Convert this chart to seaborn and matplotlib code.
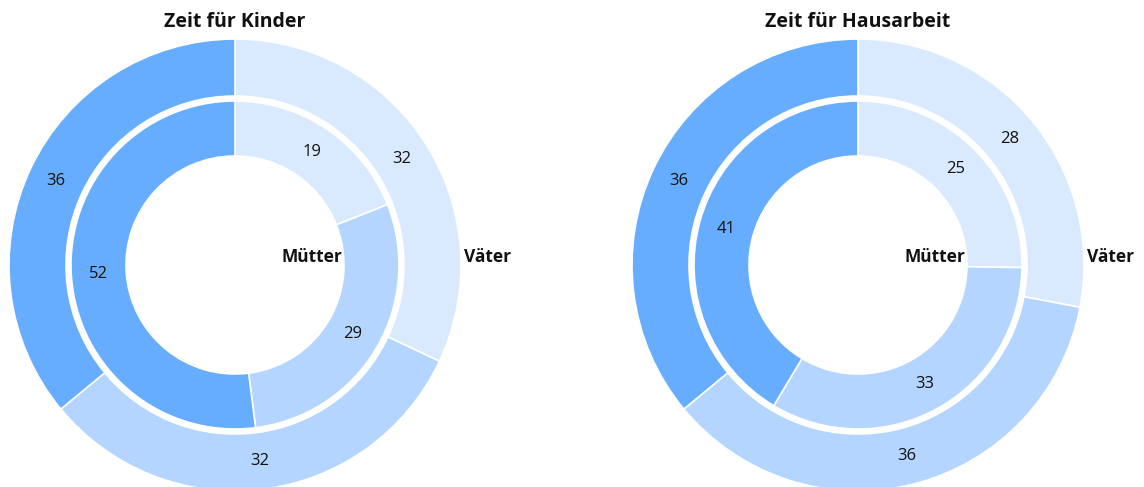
import numpy as np
import seaborn as sns
import matplotlib.pyplot as plt

sns.set_theme(style="white")
plt.rcParams["font.family"] = ["Open Sans", "DejaVu Sans"]

titles = ["Zeit für Kinder", "Zeit für Hausarbeit"]
muetter = [[19, 29, 52], [25, 33, 41]]
vaeter = [[32, 32, 36], [28, 36, 36]]
colors = ["#d9eaff", "#b3d5ff", "#66adff"]

W, H = 1144, 487
centers = [(235, 265), (858, 265)]
r_out, r_out_in = 226, 169
r_in, r_in_in = 164, 109

fig = plt.figure(figsize=(W / 100, H / 100), dpi=100)
ax = fig.add_axes([0, 0, 1, 1])


def ring(vals, c, r, w):
    ax.pie(vals, radius=r, center=c, colors=colors, startangle=-90,
           counterclock=True, frame=True,
           wedgeprops=dict(width=w, edgecolor="white", linewidth=1.2))
    tot = sum(vals)
    cum = np.cumsum([0] + vals)
    rm = r - w / 2
    for v, a, b in zip(vals, cum[:-1], cum[1:]):
        th = np.deg2rad((a + b) / 2 / tot * 360)
        ax.text(c[0] + rm * np.sin(th), c[1] - rm * np.cos(th), str(v),
                ha="center", va="center", fontsize=12, color="#111111")


for t, m, v, c in zip(titles, muetter, vaeter, centers):
    ring(v, c, r_out, r_out - r_out_in)
    ring(m, c, r_in, r_in - r_in_in)
    ax.text(c[0], 22, t, ha="center", va="center", fontsize=14,
            fontweight="bold", color="#111111")
    ax.text(c[0] + r_in_in - 2, 257, "Mütter", ha="right", va="center",
            fontsize=12.5, fontweight="bold", color="#111111")
    ax.text(c[0] + r_out + 3, 257, "Väter", ha="left", va="center",
            fontsize=12.5, fontweight="bold", color="#111111")

ax.set_xlim(0, W)
ax.set_ylim(H, 0)
ax.set_aspect("auto")
ax.axis("off")

fig.savefig("out.png", dpi=100, facecolor="white")
